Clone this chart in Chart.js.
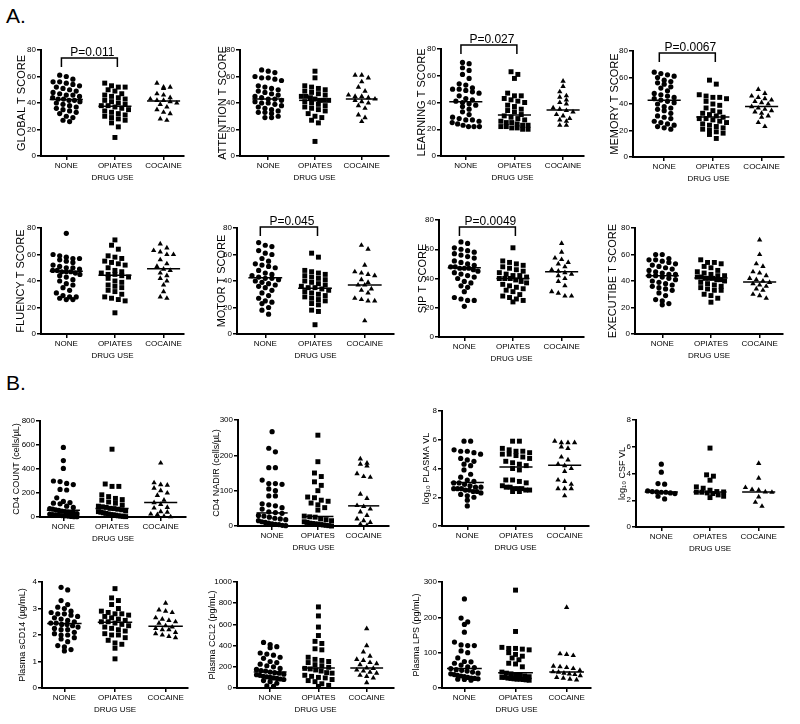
<!DOCTYPE html>
<html>
<head>
<meta charset="utf-8">
<script src="https://cdn.jsdelivr.net/npm/chart.js@4.4.1/dist/chart.umd.min.js"></script>
<style>
body { margin:0; background:#fff; width:800px; height:724px; position:relative; overflow:hidden; font-family:"Liberation Sans", Arial, sans-serif; }
canvas { position:absolute; }
.lbl { position:absolute; font-size:21px; color:#000; }
</style>
</head>
<body>
<div class="lbl" style="left:6px;top:4px">A.</div>
<div class="lbl" style="left:6px;top:371px">B.</div>
<script>
const categories = ['NONE', 'OPIATES', 'COCAINE'];

// each panel: [none, opiates, cocaine]
const globalT = [
  [61, 60, 58, 56, 56, 55, 54, 53, 52, 51, 50, 49, 48, 47, 46, 46, 45, 44, 43, 43, 42, 42, 41, 40, 39, 38, 37, 36, 35, 34, 33, 32, 30, 29, 27, 26],
  [55, 53, 52, 52, 50, 49, 47, 46, 45, 44, 43, 42, 41, 40, 39, 38, 38, 37, 36, 35, 34, 33, 32, 31, 30, 29, 28, 27, 25, 22, 14],
  [55, 52, 52, 51, 47, 46, 44, 43, 42, 42, 41, 40, 39, 37, 35, 33, 32, 28, 27]
];
const globalMed = [42.6, 37.6, 41.6];

const attentionT = [
  [65, 64, 63, 60, 59, 59, 58, 57, 53, 52, 51, 50, 49, 48, 47, 46, 45, 44, 43, 43, 42, 41, 40, 40, 39, 38, 37, 36, 35, 34, 33, 33, 32, 30, 29, 29],
  [64, 59, 53, 52, 51, 50, 49, 48, 47, 46, 45, 45, 44, 43, 42, 42, 42, 41, 40, 39, 38, 37, 36, 35, 34, 32, 30, 29, 27, 25, 11],
  [61, 61, 59, 56, 52, 49, 46, 45, 45, 44, 43, 42, 41, 40, 38, 36, 31, 29, 26]
];
const attentionMed = [43, 42, 43];

const learningT = [
  [70, 69, 66, 64, 61, 58, 54, 53, 51, 50, 50, 49, 48, 47, 45, 43, 42, 41, 40, 39, 38, 37, 35, 33, 31, 29, 28, 27, 27, 26, 25, 24, 23, 22, 22, 22],
  [63, 61, 58, 47, 45, 45, 43, 42, 41, 40, 38, 37, 35, 34, 33, 31, 30, 29, 28, 27, 26, 25, 25, 24, 23, 23, 22, 22, 21, 21, 20, 20],
  [56, 52, 48, 45, 44, 42, 40, 39, 36, 35, 34, 33, 31, 30, 28, 27, 26, 23, 23]
];
const learningMed = [40.6, 30.6, 34.3];

const memoryT = [
  [64, 63, 62, 61, 60, 58, 57, 56, 55, 53, 52, 50, 48, 47, 46, 45, 44, 43, 42, 41, 40, 38, 37, 36, 35, 33, 31, 30, 29, 27, 26, 25, 24, 23, 22, 21],
  [58, 55, 47, 46, 45, 45, 44, 42, 40, 39, 37, 35, 34, 33, 32, 31, 30, 29, 29, 28, 27, 26, 25, 24, 23, 22, 21, 20, 19, 18, 17, 14],
  [51, 48, 46, 45, 44, 43, 42, 41, 40, 38, 37, 36, 35, 34, 33, 31, 30, 26, 23]
];
const memoryMed = [42.8, 30.2, 38.2];

const fluencyT = [
  [76, 60, 59, 58, 57, 57, 56, 55, 54, 52, 51, 50, 50, 49, 48, 48, 47, 47, 47, 46, 45, 44, 43, 41, 40, 38, 37, 35, 33, 31, 29, 28, 28, 27, 26, 26],
  [71, 67, 64, 59, 58, 57, 55, 54, 53, 52, 50, 48, 47, 46, 45, 45, 44, 43, 42, 40, 39, 37, 36, 35, 33, 32, 30, 28, 27, 26, 25, 16],
  [68, 65, 63, 62, 60, 60, 56, 53, 51, 49, 48, 46, 44, 42, 40, 37, 32, 28, 27]
];
const fluencyMed = [47.3, 44.3, 49.3];

const motorT = [
  [69, 67, 66, 63, 61, 60, 57, 55, 53, 52, 51, 50, 48, 46, 45, 44, 43, 42, 42, 41, 40, 39, 38, 37, 36, 35, 33, 31, 29, 27, 25, 24, 23, 20, 18, 15],
  [61, 58, 48, 47, 46, 45, 44, 43, 42, 41, 40, 39, 38, 37, 36, 35, 35, 34, 33, 32, 31, 30, 29, 28, 27, 26, 25, 23, 22, 18, 17, 7],
  [67, 64, 52, 47, 46, 45, 44, 41, 39, 37, 37, 34, 33, 31, 27, 26, 25, 25, 10]
];
const motorMed = [42.5, 34.5, 37];

const sipT = [
  [65, 64, 61, 60, 59, 58, 57, 56, 55, 54, 52, 51, 50, 49, 48, 48, 47, 47, 47, 46, 45, 44, 43, 42, 41, 40, 38, 37, 35, 34, 31, 27, 26, 25, 25, 21],
  [61, 52, 51, 50, 49, 48, 47, 46, 45, 44, 43, 42, 42, 41, 40, 40, 40, 39, 38, 37, 36, 35, 34, 33, 32, 31, 29, 28, 27, 26, 25, 24],
  [64, 58, 54, 53, 51, 50, 48, 46, 45, 44, 43, 42, 40, 38, 35, 31, 30, 28, 28]
];
const sipMed = [47.3, 40, 44.6];

const executibeT = [
  [60, 60, 57, 56, 56, 55, 54, 53, 52, 51, 50, 49, 48, 47, 46, 45, 45, 44, 44, 43, 42, 41, 40, 39, 38, 37, 36, 35, 34, 33, 31, 29, 26, 25, 23, 22],
  [56, 54, 54, 53, 51, 50, 48, 47, 46, 45, 44, 44, 43, 43, 42, 42, 42, 41, 41, 40, 39, 38, 37, 36, 35, 34, 33, 33, 30, 29, 27, 24],
  [71, 60, 53, 51, 47, 46, 44, 42, 41, 40, 39, 38, 37, 36, 34, 33, 30, 29, 27]
];
const executibeMed = [44, 42.3, 39.2];

const cd4Count = [
  [580, 470, 405, 300, 295, 280, 270, 230, 225, 160, 130, 120, 115, 110, 90, 80, 70, 65, 60, 55, 50, 45, 40, 35, 30, 28, 25, 20, 18, 15, 12, 10, 8, 5, 3, 2],
  [565, 275, 255, 255, 185, 170, 155, 145, 140, 125, 115, 100, 90, 85, 80, 72, 70, 65, 60, 50, 45, 40, 35, 30, 25, 20, 18, 15, 10, 8, 5, 3],
  [450, 285, 270, 265, 240, 220, 200, 180, 140, 120, 105, 80, 75, 45, 40, 25, 20, 5, 2]
];
const cd4CountMed = [56, 70, 120];

const cd4Nadir = [
  [267, 220, 210, 165, 165, 130, 120, 120, 118, 105, 100, 85, 85, 63, 60, 57, 52, 48, 40, 38, 36, 30, 28, 25, 22, 20, 18, 15, 12, 10, 8, 6, 5, 4, 2, 1],
  [257, 182, 150, 140, 125, 115, 100, 82, 80, 73, 70, 65, 60, 52, 45, 28, 26, 25, 20, 18, 15, 12, 10, 8, 7, 6, 5, 4, 3, 2, 1, 0],
  [190, 178, 175, 170, 148, 140, 138, 90, 78, 58, 55, 48, 40, 30, 20, 15, 10, 5, 2]
];
const cd4NadirMed = [37, 27, 57];

const plasmaVL = [
  [5.9, 5.9, 5.3, 5.2, 5.2, 5.1, 5.0, 4.7, 4.6, 4.5, 4.3, 4.2, 3.9, 3.6, 3.4, 3.2, 3.1, 3.0, 3.0, 2.9, 2.8, 2.7, 2.7, 2.6, 2.6, 2.6, 2.5, 2.5, 2.4, 2.4, 2.3, 2.2, 2.1, 2.0, 1.8, 1.4],
  [5.9, 5.9, 5.4, 5.3, 5.2, 5.2, 5.1, 5.0, 5.0, 4.9, 4.8, 4.7, 4.5, 4.4, 4.3, 4.2, 4.0, 3.9, 3.2, 3.2, 3.1, 3.0, 2.8, 2.7, 2.7, 2.6, 2.6, 2.6, 2.5, 2.5, 2.4, 2.4],
  [5.9, 5.8, 5.8, 5.8, 5.5, 5.4, 4.8, 4.6, 4.3, 4.2, 4.0, 3.8, 3.2, 3.1, 2.9, 2.6, 2.6, 2.6, 2.1]
];
const plasmaVLMed = [3.02, 4.1, 4.22];

const csfVL = [
  [4.7, 4.1, 3.25, 3.2, 2.7, 2.65, 2.62, 2.6, 2.6, 2.55, 2.5, 2.3, 2.1],
  [5.9, 3.9, 3.8, 3.5, 3.0, 2.9, 2.75, 2.65, 2.62, 2.6, 2.6, 2.55, 2.5, 2.4, 2.3, 2.2],
  [4.75, 3.65, 2.95, 2.8, 2.75, 2.62, 2.6, 2.25, 1.85, 1.55]
];
const csfVLMed = [2.62, 2.62, 2.62];

const sCD14 = [
  [3.8, 3.7, 3.3, 3.15, 3.05, 3.0, 2.9, 2.85, 2.8, 2.8, 2.75, 2.7, 2.65, 2.6, 2.55, 2.5, 2.45, 2.45, 2.4, 2.4, 2.35, 2.3, 2.25, 2.2, 2.2, 2.1, 2.05, 2.0, 2.0, 1.9, 1.85, 1.75, 1.6, 1.55, 1.45, 1.4],
  [3.75, 3.4, 3.3, 3.15, 3.0, 2.9, 2.85, 2.8, 2.8, 2.75, 2.7, 2.65, 2.6, 2.55, 2.5, 2.5, 2.45, 2.4, 2.35, 2.3, 2.25, 2.2, 2.15, 2.05, 2.0, 2.0, 1.9, 1.8, 1.7, 1.65, 1.5, 1.1],
  [3.2, 2.95, 2.9, 2.85, 2.65, 2.6, 2.55, 2.5, 2.45, 2.35, 2.3, 2.25, 2.2, 2.2, 2.1, 2.05, 2.0, 1.95, 1.9]
];
const sCD14Med = [2.43, 2.48, 2.33];

const ccl2 = [
  [430, 410, 390, 380, 330, 320, 310, 290, 280, 250, 240, 225, 210, 200, 185, 175, 165, 160, 150, 145, 140, 130, 125, 120, 110, 105, 100, 95, 90, 85, 80, 70, 60, 45, 20, 15],
  [765, 680, 575, 495, 440, 420, 370, 360, 290, 270, 260, 250, 240, 220, 210, 195, 185, 180, 170, 160, 145, 140, 120, 110, 100, 95, 80, 70, 60, 40, 25, 15],
  [560, 400, 340, 300, 270, 260, 240, 230, 220, 190, 185, 170, 160, 150, 140, 120, 110, 95, 50]
];
const ccl2Med = [151, 189, 189];

const lps = [
  [252, 198, 187, 180, 158, 130, 122, 120, 120, 105, 100, 85, 75, 74, 70, 65, 60, 58, 55, 52, 50, 48, 45, 42, 40, 38, 36, 34, 32, 30, 28, 27, 26, 25, 24, 22],
  [277, 160, 115, 112, 112, 110, 108, 100, 95, 90, 85, 80, 70, 68, 60, 45, 42, 40, 38, 36, 34, 32, 30, 30, 28, 27, 26, 25, 25, 24, 23, 22],
  [228, 97, 95, 92, 62, 60, 58, 55, 50, 46, 45, 42, 40, 38, 35, 30, 28, 25, 23]
];
const lpsMed = [55, 43, 45];

const panels = [
  {title: 'GLOBAL T SCORE', data: globalT, med: globalMed, max: 80, step: 20, p: 'P=0.011'},
  {title: 'ATTENTION T SCORE', data: attentionT, med: attentionMed, max: 80, step: 20},
  {title: 'LEARNING T SCORE', data: learningT, med: learningMed, max: 80, step: 20, p: 'P=0.027'},
  {title: 'MEMORY T SCORE', data: memoryT, med: memoryMed, max: 80, step: 20, p: 'P=0.0067'},
  {title: 'FLUENCY T SCORE', data: fluencyT, med: fluencyMed, max: 80, step: 20},
  {title: 'MOTOR T SCORE', data: motorT, med: motorMed, max: 80, step: 20, p: 'P=0.045'},
  {title: 'SIP T SCORE', data: sipT, med: sipMed, max: 80, step: 20, p: 'P=0.0049'},
  {title: 'EXECUTIBE T SCORE', data: executibeT, med: executibeMed, max: 80, step: 20},
  {title: 'CD4 COUNT (cells/µL)', data: cd4Count, med: cd4CountMed, max: 800, step: 200},
  {title: 'CD4 NADIR (cells/µL)', data: cd4Nadir, med: cd4NadirMed, max: 300, step: 100},
  {title: 'log₁₀ PLASMA VL', data: plasmaVL, med: plasmaVLMed, max: 8, step: 2},
  {title: 'log₁₀ CSF VL', data: csfVL, med: csfVLMed, max: 8, step: 2},
  {title: 'Plasma sCD14 (µg/mL)', data: sCD14, med: sCD14Med, max: 4, step: 1},
  {title: 'Plasma CCL2 (pg/mL)', data: ccl2, med: ccl2Med, max: 1000, step: 200},
  {title: 'Plasma LPS (pg/mL)', data: lps, med: lpsMed, max: 300, step: 100}
];

// page layout: [axis x, top px, right px, bottom px]; first group offset and group spacing (px)
const boxes = [
  [41, 50, 188, 156], [240, 50, 393, 156], [441, 49, 588, 156], [633, 51, 788, 157],
  [41, 228, 188, 334], [237, 228, 398, 334], [439, 220, 588, 337], [635, 228, 787, 334],
  [40, 421, 190, 517], [238, 420, 393, 526], [442, 411, 593, 526], [636, 420, 788, 527],
  [42, 582, 192, 688], [237, 582, 398, 688], [442, 582, 595, 688]
];
const groupOff = [26, 29, 25.5, 32, 26, 29, 26, 28, 24, 35, 26, 26, 23, 34, 23];
const groupGap = [50, 48, 50, 50, 50, 51, 50, 50, 50, 47, 50, 50, 52, 49.5, 52.5];
const titleOff = [-19, -17, -19, -18, -20, -15, -16, -22, -23, -21, -15, -13, -19, -24, -25];
const bracketOff = [8, 0, -4, 2, 0, -1, 7, 0];

const HALF = 0.34;
const L = 40, T = 30, B = 30;
const shapes = ['circle', 'rect', 'triangle'];
const radii = [2.6, 3.5, 3.1];
const gap = [6.8, 7, 6.8];
const MAX_W = 28;

Chart.defaults.font.family = '"Liberation Sans", Arial, sans-serif';
Chart.defaults.color = '#000';

// Prism-like rows: points close in y share a row and spread sideways (pixels)
function swarm(vals, pxY, d) {
  const offs = new Array(vals.length).fill(0);
  const order = vals.map((v, i) => i).sort((a, b) => vals[b] - vals[a]);
  const rowH = d * 0.75;
  let i = 0;
  while (i < order.length) {
    const y0 = vals[order[i]] * pxY;
    let j = i;
    while (j < order.length && y0 - vals[order[j]] * pxY < rowH) j++;
    const n = j - i;
    const sp = n > 1 ? Math.min(d, MAX_W / (n - 1)) : 0;
    for (let k = 0; k < n; k++) offs[order[i + k]] = (k - (n - 1) / 2) * sp;
    i = j;
  }
  return offs;
}

const bracketPlugin = {
  id: 'bracket',
  afterDraw(chart, args, opts) {
    if (!opts.text) return;
    const {ctx, chartArea, scales} = chart;
    const x1 = scales.x.getPixelForValue(0.9);
    const x2 = scales.x.getPixelForValue(2.05);
    const y = chartArea.top + opts.offset;
    ctx.save();
    ctx.strokeStyle = '#000';
    ctx.lineWidth = 1.5;
    ctx.beginPath();
    ctx.moveTo(x1, y + 9); ctx.lineTo(x1, y); ctx.lineTo(x2, y); ctx.lineTo(x2, y + 9);
    ctx.stroke();
    ctx.fillStyle = '#000';
    ctx.font = '12px "Liberation Sans", Arial, sans-serif';
    ctx.textAlign = 'center';
    ctx.textBaseline = 'alphabetic';
    ctx.fillText(opts.text, (x1 + x2) / 2 + 3, y - 2);
    ctx.restore();
  }
};

panels.forEach((p, i) => {
  const [ax, top, right, bottom] = boxes[i];
  const w = L + right - ax, h = T + bottom - top + B;
  const cv = document.createElement('canvas');
  cv.width = w; cv.height = h;
  cv.style.left = (ax - L) + 'px';
  cv.style.top = (top - T) + 'px';
  cv.style.width = w + 'px';
  cv.style.height = h + 'px';
  document.body.appendChild(cv);

  const pxX = groupGap[i];
  const xMin = 1 - groupOff[i] / pxX;
  const xMax = xMin + (right - ax) / pxX;
  const pxY = (bottom - top) / p.max;
  const tFont = i < 8 ? 11 : 9;

  const datasets = [];
  p.data.forEach((vals, g) => {
    const offs = swarm(vals, pxY, gap[g]);
    datasets.push({
      type: 'scatter', order: 1,
      data: vals.map((v, k) => ({x: g + 1 + offs[k] / pxX, y: v})),
      pointStyle: shapes[g], pointRadius: radii[g],
      backgroundColor: '#000', borderWidth: 0, clip: false
    });
    datasets.push({
      type: 'line', order: 0,
      data: [{x: g + 1 - HALF, y: p.med[g]}, {x: g + 1 + HALF, y: p.med[g]}],
      borderColor: '#000', borderWidth: 1.5, pointRadius: 0, clip: false
    });
  });

  new Chart(cv, {
    type: 'scatter',
    data: {datasets},
    options: {
      responsive: false, animation: false, devicePixelRatio: 1, events: [],
      layout: {padding: {top: T, left: 0, right: 0, bottom: 0}},
      plugins: {
        legend: {display: false}, tooltip: {enabled: false},
        bracket: {text: p.p, offset: bracketOff[i] || 0}
      },
      scales: {
        x: {
          type: 'linear', min: xMin, max: xMax,
          grid: {display: true, drawOnChartArea: false, drawTicks: true, tickLength: 4, color: '#000', lineWidth: 1.5},
          border: {display: true, color: '#000', width: 2},
          afterBuildTicks: s => { s.ticks = categories.map((c, k) => ({value: k + 1})); },
          ticks: {callback: v => categories[v - 1], autoSkip: false, maxRotation: 0, padding: 1, color: '#000', font: {size: 8}},
          title: {display: true, text: 'DRUG USE', color: '#000', font: {size: 8}, padding: {top: 0, bottom: 3}},
          afterFit: s => { s.height = B; }
        },
        y: {
          min: 0, max: p.max,
          grid: {display: true, drawOnChartArea: false, drawTicks: true, tickLength: 4, color: '#000', lineWidth: 1.5},
          border: {display: true, color: '#000', width: 2},
          ticks: {stepSize: p.step, padding: 1, color: '#000', font: {size: 8}, callback: v => String(v)},
          title: {display: true, text: p.title, color: '#000', font: {size: tFont},
                  padding: {top: L + titleOff[i] - tFont * 0.6, bottom: 0}},
          afterFit: s => { s.width = L; }
        }
      }
    },
    plugins: [bracketPlugin]
  });
});
</script>
</body>
</html>
